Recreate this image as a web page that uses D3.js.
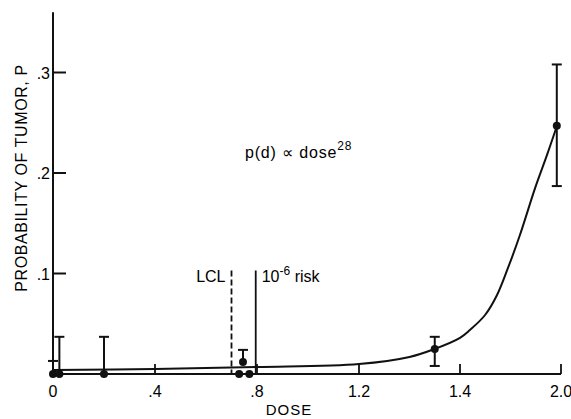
<!DOCTYPE html>
<html><head><meta charset="utf-8">
<script src="https://cdn.jsdelivr.net/npm/d3@7"></script>
<style>
body{margin:0;background:#fff;}
text{font-family:"Liberation Sans","DejaVu Sans",sans-serif;fill:#000;}
</style></head>
<body><svg id="c" width="571" height="419"></svg>
<script>
// x axis tick positions (labels as printed on the original, evenly spaced)
const xTicks = [0, 0.4, 0.8, 1.2, 1.4, 2.0];
const xTickLabels = ["0", ".4", ".8", "1.2", "1.4", "2.0"];
const yTicks = [0.1, 0.2, 0.3];
const yTickLabels = [".1", ".2", ".3"];

// observed points: dose, p, lower, upper (null = no bar on that side)
const obsDose  = [0,     0.025, 0.2,   0.73, 0.77, 0.745, 1.35,  1.975];
const obsP     = [0,     0,     0,     0,    0,    0.012, 0.025, 0.247];
const obsLow   = [null,  null,  null,  null, null, null,  0.008, 0.187];
const obsHigh  = [0.013, 0.037, 0.037, null, null, 0.024, 0.037, 0.308];

// fitted curve p(d) ~ dose^28
const curveDose = [0,     0.4,   0.8,   1.2,  1.3,   1.35,  1.4,   1.459,  1.549,  1.62,   1.685,  1.756,  1.846, 1.917, 1.976];
const curveP    = [0.004, 0.005, 0.007, 0.01, 0.017, 0.025, 0.036, 0.0438, 0.0587, 0.0786, 0.1055, 0.1383, 0.185, 0.218, 0.247];

// reference lines
const lclDose = 0.7, riskDose = 0.795, refTop = 0.103;

const svg = d3.select("#c");
const x = d3.scaleLinear().domain(xTicks).range([53, 155, 257, 359, 460, 561]);
const y = d3.scaleLinear().domain([0, 0.36]).range([374, 12.2]);

const ink = "#111";
// axes
svg.append("line").attr("x1", x(0)).attr("x2", x(0)).attr("y1", y(0.36)).attr("y2", y(0))
  .attr("stroke", ink).attr("stroke-width", 2);
svg.append("line").attr("x1", x(0)).attr("x2", x(2.0)).attr("y1", y(0)).attr("y2", y(0))
  .attr("stroke", ink).attr("stroke-width", 2);

// y ticks (inward)
svg.selectAll(".yt").data(yTicks).enter().append("line")
  .attr("x1", x(0)).attr("x2", x(0) + 13).attr("y1", d => y(d)).attr("y2", d => y(d))
  .attr("stroke", ink).attr("stroke-width", 2);
svg.selectAll(".ytl").data(yTicks).enter().append("text")
  .attr("x", x(0) - 3).attr("y", d => y(d) + 6).attr("text-anchor", "end")
  .attr("font-size", 16).text((d, i) => yTickLabels[i]);

// x ticks (inward)
svg.selectAll(".xt").data(xTicks.slice(1)).enter().append("line")
  .attr("x1", d => x(d)).attr("x2", d => x(d)).attr("y1", y(0)).attr("y2", y(0) - 10)
  .attr("stroke", ink).attr("stroke-width", 1.8);
svg.selectAll(".xtl").data(xTicks).enter().append("text")
  .attr("x", d => x(d)).attr("y", 397).attr("text-anchor", "middle")
  .attr("font-size", 16).text((d, i) => xTickLabels[i]);

// axis titles
svg.append("text").attr("x", 289).attr("y", 415).attr("text-anchor", "middle")
  .attr("font-size", 15).attr("letter-spacing", 1).text("DOSE");
svg.append("text").attr("transform", "translate(27,178) rotate(-90)")
  .attr("text-anchor", "middle").attr("font-size", 16).attr("letter-spacing", 0.6)
  .text("PROBABILITY OF TUMOR, P");

// reference lines
svg.append("line").attr("x1", x(lclDose)).attr("x2", x(lclDose)).attr("y1", y(refTop)).attr("y2", y(0))
  .attr("stroke", ink).attr("stroke-width", 1.8).attr("stroke-dasharray", "6,3");
svg.append("line").attr("x1", x(riskDose)).attr("x2", x(riskDose)).attr("y1", y(refTop)).attr("y2", y(0))
  .attr("stroke", ink).attr("stroke-width", 1.8);
svg.append("text").attr("x", x(lclDose) - 6).attr("y", y(refTop) + 12).attr("text-anchor", "end")
  .attr("font-size", 16).text("LCL");
const rt = svg.append("text").attr("x", x(riskDose) + 6).attr("y", y(refTop) + 12).attr("font-size", 16);
rt.append("tspan").text("10");
rt.append("tspan").attr("dy", -7).attr("font-size", 12).text("-6");
rt.append("tspan").attr("dy", 7).text(" risk");

// formula
const ft = svg.append("text").attr("x", 245).attr("y", 158).attr("font-size", 16).attr("letter-spacing", 0.8);
ft.append("tspan").text("p(d) \u221D dose");
ft.append("tspan").attr("dy", -8).attr("font-size", 12).text("28");

// curve
const line = d3.line().x(d => x(d[0])).y(d => y(d[1])).curve(d3.curveCatmullRom);
svg.append("path").datum(curveDose.map((d, i) => [d, curveP[i]]))
  .attr("d", line).attr("fill", "none").attr("stroke", ink).attr("stroke-width", 2);

// error bars
const pts = obsDose.map((d, i) => ({d, p: obsP[i], lo: obsLow[i], hi: obsHigh[i]}));
pts.forEach(o => {
  const cx = x(o.d);
  const top = o.hi != null ? o.hi : o.p;
  const bot = o.lo != null ? o.lo : o.p;
  if (top !== bot) {
    svg.append("line").attr("x1", cx).attr("x2", cx).attr("y1", y(top)).attr("y2", y(bot))
      .attr("stroke", ink).attr("stroke-width", 2);
  }
  if (o.hi != null) svg.append("line").attr("x1", cx - 5).attr("x2", cx + 5).attr("y1", y(o.hi)).attr("y2", y(o.hi))
    .attr("stroke", ink).attr("stroke-width", 2);
  if (o.lo != null) svg.append("line").attr("x1", cx - 5).attr("x2", cx + 5).attr("y1", y(o.lo)).attr("y2", y(o.lo))
    .attr("stroke", ink).attr("stroke-width", 2);
});
svg.selectAll(".pt").data(pts).enter().append("circle")
  .attr("cx", o => x(o.d)).attr("cy", o => y(o.p)).attr("r", 4).attr("fill", ink);
</script></body></html>
